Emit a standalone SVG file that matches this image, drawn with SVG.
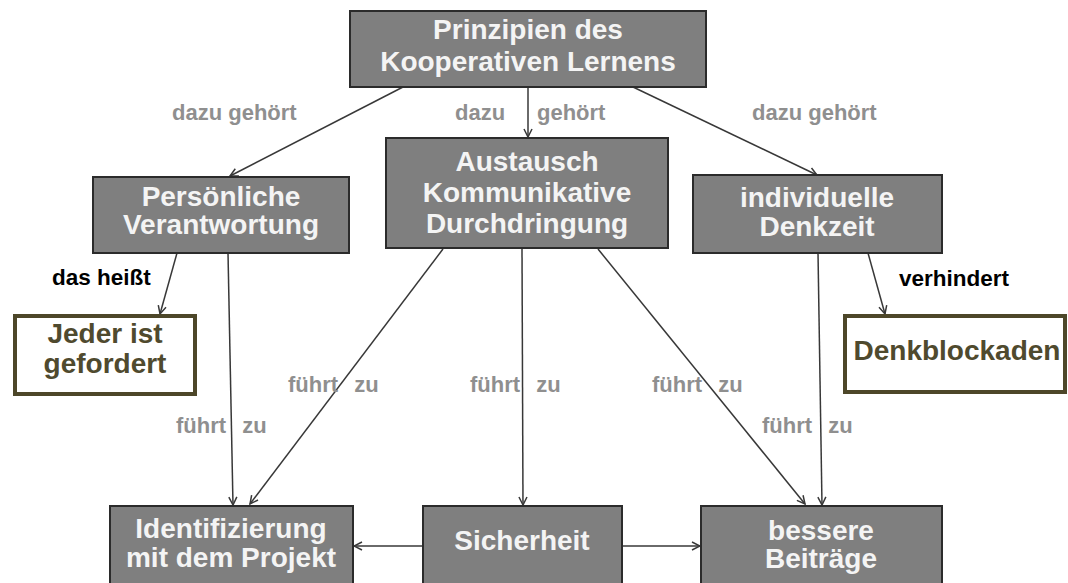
<svg xmlns="http://www.w3.org/2000/svg" width="1068" height="583" viewBox="0 0 1068 583">
<defs>
<style>
.box{fill:#7f7f7f;stroke:#2b2b2b;stroke-width:2}
.wbox{fill:#fff;stroke:#4d4729;stroke-width:4}
.nt{font-family:"Liberation Sans",Arial,sans-serif;font-weight:bold;font-size:28px;fill:#f4f4f4;text-anchor:middle}
.wt{font-family:"Liberation Sans",Arial,sans-serif;font-weight:bold;font-size:28px;fill:#4f4a2e;text-anchor:middle}
.gl{font-family:"Liberation Sans",Arial,sans-serif;font-weight:bold;font-size:22px;fill:#8f8f8f}
.bl{font-family:"Liberation Sans",Arial,sans-serif;font-weight:bold;font-size:22.5px;fill:#000}
.fz{word-spacing:10px}
.c{fill:none;stroke:#383838;stroke-width:1.5;marker-end:url(#arr)}
</style>
<marker id="arr" viewBox="0 0 10 10" refX="9" refY="5" markerWidth="10" markerHeight="10" markerUnits="userSpaceOnUse" orient="auto">
<path d="M1,1 L9,5 L1,9" fill="none" stroke="#383838" stroke-width="1.5"/>
</marker>
</defs>
<rect width="1068" height="583" fill="#fff"/>

<g id="connectors">
<line class="c" x1="403" y1="87" x2="230" y2="176"/>
<line class="c" x1="528" y1="87" x2="528" y2="137"/>
<line class="c" x1="633" y1="87" x2="817" y2="175"/>
<line class="c" x1="177" y1="253" x2="160" y2="314"/>
<line class="c" x1="228" y1="253" x2="233" y2="505"/>
<line class="c" x1="443" y1="249" x2="250" y2="504"/>
<line class="c" x1="522" y1="248" x2="523" y2="505"/>
<line class="c" x1="598" y1="249" x2="805" y2="504"/>
<line class="c" x1="818" y1="253" x2="822" y2="505"/>
<line class="c" x1="868" y1="253" x2="885" y2="314"/>
<line class="c" x1="423" y1="546" x2="354" y2="546"/>
<line class="c" x1="622" y1="546" x2="700" y2="546"/>
</g>

<g id="labels">
<text class="gl" x="172" y="120">dazu gehört</text>
<text class="gl" y="120"><tspan x="455">dazu</tspan><tspan x="537">gehört</tspan></text>
<text class="gl" x="752" y="120">dazu gehört</text>
<text class="bl" x="52" y="285">das heißt</text>
<text class="bl" x="899" y="286">verhindert</text>
<text class="gl fz" x="176" y="433">führt zu</text>
<text class="gl fz" x="288" y="392">führt zu</text>
<text class="gl fz" x="470" y="392">führt zu</text>
<text class="gl fz" x="652" y="392">führt zu</text>
<text class="gl fz" x="762" y="433">führt zu</text>
</g>

<g id="n-prinzipien">
<rect class="box" x="350" y="11" width="356" height="76"/>
<text class="nt" x="528" y="39">Prinzipien des</text>
<text class="nt" x="528" y="71">Kooperativen Lernens</text>
</g>
<g id="n-persoenliche">
<rect class="box" x="93" y="177" width="256" height="76"/>
<text class="nt" x="221" y="206">Persönliche</text>
<text class="nt" x="221" y="234">Verantwortung</text>
</g>
<g id="n-austausch">
<rect class="box" x="386" y="138" width="282" height="110"/>
<text class="nt" x="527" y="171">Austausch</text>
<text class="nt" x="527" y="202">Kommunikative</text>
<text class="nt" x="527" y="233">Durchdringung</text>
</g>
<g id="n-denkzeit">
<rect class="box" x="693" y="175" width="249" height="78"/>
<text class="nt" x="817" y="207">individuelle</text>
<text class="nt" x="817" y="236">Denkzeit</text>
</g>
<g id="n-jeder">
<rect class="wbox" x="15" y="316" width="180" height="78"/>
<text class="wt" x="105" y="343">Jeder ist</text>
<text class="wt" x="105" y="373">gefordert</text>
</g>
<g id="n-denkblockaden">
<rect class="wbox" x="845" y="316" width="220" height="76"/>
<text class="wt" x="957" y="360">Denkblockaden</text>
</g>
<g id="n-identifizierung">
<rect class="box" x="110" y="506" width="243" height="84"/>
<text class="nt" x="231" y="538">Identifizierung</text>
<text class="nt" x="231" y="567">mit dem Projekt</text>
</g>
<g id="n-sicherheit">
<rect class="box" x="423" y="506" width="199" height="84"/>
<text class="nt" x="522" y="550">Sicherheit</text>
</g>
<g id="n-bessere">
<rect class="box" x="701" y="506" width="241" height="84"/>
<text class="nt" x="821" y="540">bessere</text>
<text class="nt" x="821" y="568">Beiträge</text>
</g>
</svg>
